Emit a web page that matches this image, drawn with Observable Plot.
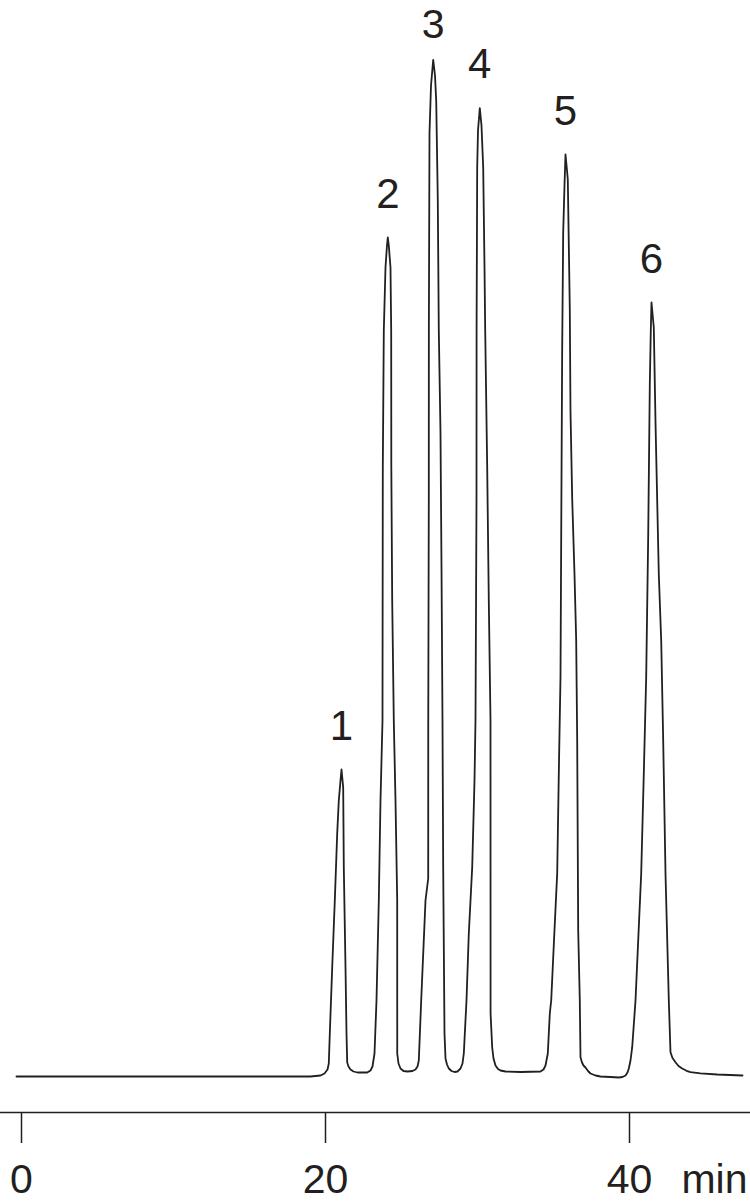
<!DOCTYPE html>
<html>
<head>
<meta charset="utf-8">
<script src="https://cdn.jsdelivr.net/npm/d3@7"></script>
<script src="https://cdn.jsdelivr.net/npm/@observablehq/plot@0.6"></script>
<style>
  html, body { margin: 0; padding: 0; background: #ffffff; }
  #chart svg { display: block; }
</style>
</head>
<body>
<div id="chart"></div>
<script>
// Chromatogram trace: retention time (min) and detector signal (arbitrary units)
const traceTime = [
  -0.329, 11.776, 19.013, 19.671, 19.934, 20.132, 20.217,
  20.283, 20.441, 20.612, 20.770, 20.875, 20.987, 21.053,
  21.164, 21.204, 21.316, 21.382, 21.428, 21.513, 21.645, 21.842, 22.105, 22.743, 22.961, 23.092, 23.224,
  23.355, 23.507, 23.618, 23.750, 23.770, 23.836, 23.947, 24.046, 24.099,
  24.164, 24.276, 24.322, 24.330, 24.388, 24.493, 24.605, 24.717, 24.720, 24.803, 24.934, 25.132, 25.395, 25.724, 25.921, 26.053, 26.138,
  26.296, 26.579, 26.757, 26.760, 26.796, 26.800, 26.842, 26.941, 27.086,
  27.204, 27.283, 27.388, 27.454, 27.566, 27.632, 27.697, 27.743, 27.829, 27.895, 27.993, 28.112, 28.289, 28.487, 28.684, 28.882, 29.013, 29.099,
  29.276, 29.428, 29.651, 29.803, 29.868, 29.934, 29.940, 29.980, 30.033, 30.151,
  30.263, 30.375, 30.461, 30.507, 30.638, 30.743, 30.855, 30.860, 30.967, 31.053, 31.184, 31.349, 31.513, 31.842, 32.829, 34.145, 34.342, 34.474, 34.625,
  34.757, 34.849, 35.033, 35.243, 35.349, 35.461, 35.507, 35.572, 35.638, 35.724, 35.789,
  35.888, 35.941, 36.072, 36.118, 36.230, 36.382, 36.493, 36.559, 36.625, 36.730, 36.776, 36.875, 36.974, 37.105, 37.270, 37.434, 37.763, 38.092, 38.750, 39.296, 39.539, 39.737, 39.868, 39.954, 40.066, 40.178,
  40.395, 40.770, 40.941, 41.099, 41.230, 41.336, 41.401, 41.447,
  41.599, 41.711, 41.928, 42.086, 42.217, 42.368, 42.586, 42.697, 42.829, 43.026, 43.224, 43.467, 43.750, 44.013, 44.671, 45.770, 47.434
];
const traceSignal = [
  -1, -1, -1, 0, 2, 6, 12,
  42, 108, 175, 242, 275, 295, 306,
  288, 208, 108, 42, 13, 9, 6, 4, 3, 3, 5, 9, 22,
  75, 175, 275, 355, 608, 745, 808, 830, 838,
  830, 808, 745, 608, 475, 355, 275, 175, 22, 12, 7, 4.5, 4, 4.5, 6, 9, 15,
  75, 175, 197, 355, 575, 745, 942, 990, 1015.7,
  1000, 975, 875, 745, 642, 508, 355, 208, 42, 17, 11, 7, 4.5, 3.5, 4, 7, 12, 22,
  75, 142, 208, 295, 355, 575, 745, 908, 945, 967.3,
  950, 908, 808, 745, 608, 475, 355, 62, 28, 17, 10, 6.5, 5, 4, 3.5, 4, 6, 10, 22,
  62, 75, 135, 202, 302, 399, 539, 729, 843, 890, 921,
  905, 896, 767, 664, 577, 501, 435, 335, 145, 75, 18.3, 13, 10, 8, 4.5, 2, 0, -1, -1.5, -2, -1.5, 0, 3, 7, 15, 28.3,
  75, 202, 302, 399, 539, 691, 745, 773,
  748, 653, 501, 435, 335, 202, 75, 23.3, 17.5, 13.3, 9.5, 7, 4.7, 3.3, 2.2, 1, 0
];

// Peak numbering
const peakNames = ["1", "2", "3", "4", "5", "6"];
const peakTimes = [21.053, 24.099, 27.086, 30.151, 35.789, 41.447];
const peakHeights = [306, 838, 1015.7, 967.3, 921, 773];

// Axis ticks
const tickValues = [0, 20, 40];
const axisUnit = "min";

const trace = traceTime.map((t, i) => ({time: t, signal: traceSignal[i]}));
const peaks = peakNames.map((n, i) => ({name: n, time: peakTimes[i], signal: peakHeights[i]}));
const tallest = d3.max(peakHeights);

const ink = "#231f20";
const font = "'Liberation Sans', Arial, Helvetica, sans-serif";

const chart = Plot.plot({
  width: 750,
  height: 1202,
  marginTop: 0,
  marginLeft: 0,
  marginRight: 0,
  marginBottom: 90,
  style: {fontFamily: font, color: ink, background: "#ffffff", overflow: "visible"},
  x: {domain: [0, 48], range: [21, 750.6]},
  y: {domain: [0, 1000], range: [1075, 75], axis: null},
  marks: [
    Plot.frame({anchor: "bottom", stroke: ink, strokeWidth: 1.7}),
    Plot.axisX({
      ticks: tickValues,
      tickFormat: d => String(d),
      tickSize: 31,
      tickPadding: 20,
      fontSize: 41,
      stroke: ink,
      strokeWidth: 1.5,
      fill: ink,
      label: axisUnit,
      labelAnchor: "right",
      labelArrow: "none",
      labelOffset: 80
    }),
    Plot.line(trace, {
      x: "time",
      y: "signal",
      stroke: ink,
      strokeWidth: 1.8,
      strokeLinejoin: "round",
      strokeLinecap: "round"
    }),
    Plot.text(peaks.filter(d => d.signal < tallest), {
      x: "time",
      y: "signal",
      text: "name",
      dy: -30,
      lineAnchor: "bottom",
      fontSize: 42,
      fill: ink
    }),
    Plot.text(peaks.filter(d => d.signal === tallest), {
      x: "time",
      y: "signal",
      text: "name",
      dy: -22,
      lineAnchor: "bottom",
      fontSize: 41,
      fill: ink
    })
  ]
});

document.getElementById("chart").appendChild(chart);
</script>
</body>
</html>
